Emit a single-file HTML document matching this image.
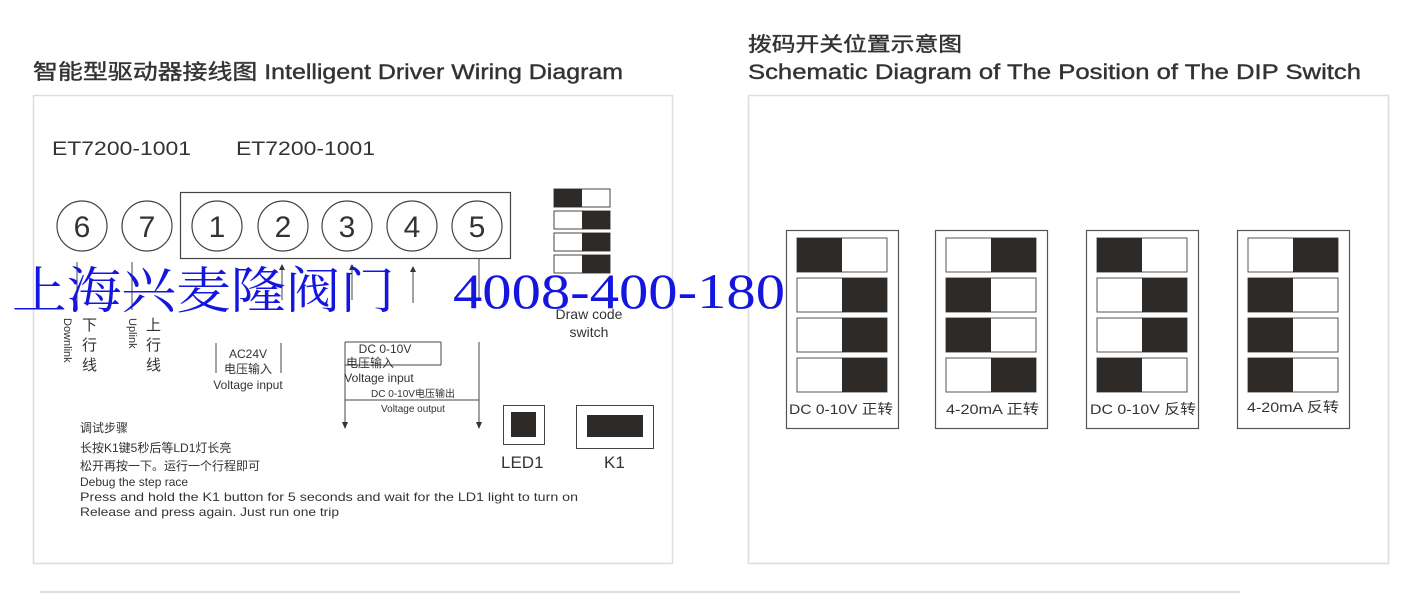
<!DOCTYPE html>
<html><head><meta charset="utf-8"><style>
html,body{margin:0;padding:0;background:#fff;}
svg{display:block;}
text{font-family:"Liberation Sans","Noto Sans CJK SC",sans-serif;fill:#333;}
</style></head><body>
<svg width="1418" height="594" viewBox="0 0 1418 594" xmlns="http://www.w3.org/2000/svg">
<!-- titles -->
<text x="33" y="79" font-size="21" textLength="590" lengthAdjust="spacingAndGlyphs" stroke="#333" stroke-width="0.4">智能型驱动器接线图 Intelligent Driver Wiring Diagram</text>
<text x="748" y="51" font-size="20" textLength="214" lengthAdjust="spacingAndGlyphs" stroke="#333" stroke-width="0.4">拨码开关位置示意图</text>
<text x="748" y="79" font-size="21" textLength="613" lengthAdjust="spacingAndGlyphs" stroke="#333" stroke-width="0.4">Schematic Diagram of The Position of The DIP Switch</text>
<!-- panels -->
<rect x="33.5" y="95.5" width="639" height="468" fill="none" stroke="#ddd" stroke-width="1.5"/>
<rect x="748.5" y="95.5" width="640" height="468" fill="none" stroke="#ddd" stroke-width="1.5"/>
<line x1="40" y1="592" x2="1240" y2="592" stroke="#ddd" stroke-width="2"/>

<g font-size="19"><text x="52" y="155" textLength="139" lengthAdjust="spacingAndGlyphs">ET7200-1001</text><text x="236" y="155" textLength="139" lengthAdjust="spacingAndGlyphs">ET7200-1001</text></g>
<rect x="180.5" y="192.5" width="330" height="66" fill="none" stroke="#444" stroke-width="1.2"/>
<g fill="#fff" stroke="#444" stroke-width="1.2">
<circle cx="82" cy="226" r="25"/><circle cx="147" cy="226" r="25"/><circle cx="217" cy="226" r="25"/>
<circle cx="283" cy="226" r="25"/><circle cx="347" cy="226" r="25"/><circle cx="412" cy="226" r="25"/><circle cx="477" cy="226" r="25"/>
</g>
<g font-size="30" text-anchor="middle">
<text x="82" y="237">6</text><text x="147" y="237">7</text><text x="217" y="237">1</text><text x="283" y="237">2</text>
<text x="347" y="237">3</text><text x="412" y="237">4</text><text x="477" y="237">5</text></g>
<!-- small dip -->
<g stroke="#444" stroke-width="1" fill="#fff">
<rect x="554" y="189" width="56" height="18"/><rect x="554" y="211" width="56" height="18"/>
<rect x="554" y="233" width="56" height="18"/><rect x="554" y="255" width="56" height="18"/></g>
<g fill="#2e2a28"><rect x="554" y="189" width="28" height="18"/><rect x="582" y="211" width="28" height="18"/>
<rect x="582" y="233" width="28" height="18"/><rect x="582" y="255" width="28" height="18"/></g>
<g font-size="14" text-anchor="middle"><text x="589" y="319">Draw code</text><text x="589" y="337">switch</text></g>
<!-- vertical lines -->
<g stroke="#444" stroke-width="1">
<line x1="77" y1="262" x2="77" y2="310"/><line x1="132" y1="262" x2="132" y2="310"/>
<line x1="282" y1="268" x2="282" y2="300"/><line x1="352" y1="268" x2="352" y2="300"/><line x1="413" y1="268" x2="413" y2="303"/>
<line x1="216" y1="343" x2="216" y2="373"/><line x1="281" y1="343" x2="281" y2="373"/>
<line x1="345" y1="342" x2="345" y2="425"/><line x1="345" y1="342" x2="441" y2="342"/><line x1="441" y1="342" x2="441" y2="365"/>
<line x1="345" y1="365" x2="441" y2="365"/>
<line x1="345" y1="400" x2="479" y2="400"/><line x1="479" y1="258" x2="479" y2="300"/><line x1="479" y1="342" x2="479" y2="425"/>
</g>
<g fill="#333"><path d="M342 422 L348 422 L345 429Z"/><path d="M476 422 L482 422 L479 429Z"/>
<path d="M279 270 L285 270 L282 264Z"/><path d="M349 270 L355 270 L352 264Z"/><path d="M410 272 L416 272 L413 266Z"/></g>
<!-- vertical labels -->
<g font-size="15"><text x="82" y="330">下</text><text x="82" y="350">行</text><text x="82" y="370">线</text>
<text x="146" y="330">上</text><text x="146" y="350">行</text><text x="146" y="370">线</text></g>
<g font-size="11"><text transform="translate(64,318) rotate(90)">Downlink</text><text transform="translate(129,318) rotate(90)">Uplink</text></g>
<g font-size="12" text-anchor="middle"><text x="248" y="358">AC24V</text><text x="248" y="373">电压输入</text><text x="248" y="389">Voltage input</text>
<text x="385" y="353">DC 0-10V</text><text x="370" y="367">电压输入</text><text x="379" y="382">Voltage input</text></g>
<g font-size="10" text-anchor="middle"><text x="413" y="397">DC 0-10V电压输出</text><text x="413" y="412">Voltage output</text></g>
<!-- LED/K1 -->
<rect x="503.5" y="405.5" width="41" height="39" fill="none" stroke="#444"/><rect x="511" y="412" width="25" height="25" fill="#2e2a28"/>
<rect x="576.5" y="405.5" width="77" height="43" fill="none" stroke="#444"/><rect x="587" y="415" width="56" height="22" fill="#2e2a28"/>
<g font-size="17"><text x="501" y="468">LED1</text><text x="604" y="468">K1</text></g>
<g font-size="12"><text x="80" y="432">调试步骤</text><text x="80" y="452">长按K1键5秒后等LD1灯长亮</text>
<text x="80" y="470">松开再按一下。运行一个行程即可</text><text x="80" y="486">Debug the step race</text>
<text x="80" y="501" textLength="498" lengthAdjust="spacingAndGlyphs">Press and hold the K1 button for 5 seconds and wait for the LD1 light to turn on</text>
<text x="80" y="516" textLength="259" lengthAdjust="spacingAndGlyphs">Release and press again. Just run one trip</text></g>
<!-- right dips -->
<g stroke="#555" stroke-width="1.2" fill="none">
<rect x="786.5" y="230.5" width="112" height="198"/><rect x="935.5" y="230.5" width="112" height="198"/>
<rect x="1086.5" y="230.5" width="112" height="198"/><rect x="1237.5" y="230.5" width="112" height="198"/></g>
<g stroke="#555" stroke-width="1" fill="#fff">
<rect x="797" y="238" width="90" height="34"/><rect x="797" y="278" width="90" height="34"/><rect x="797" y="318" width="90" height="34"/><rect x="797" y="358" width="90" height="34"/>
<rect x="946" y="238" width="90" height="34"/><rect x="946" y="278" width="90" height="34"/><rect x="946" y="318" width="90" height="34"/><rect x="946" y="358" width="90" height="34"/>
<rect x="1097" y="238" width="90" height="34"/><rect x="1097" y="278" width="90" height="34"/><rect x="1097" y="318" width="90" height="34"/><rect x="1097" y="358" width="90" height="34"/>
<rect x="1248" y="238" width="90" height="34"/><rect x="1248" y="278" width="90" height="34"/><rect x="1248" y="318" width="90" height="34"/><rect x="1248" y="358" width="90" height="34"/></g>
<g fill="#2e2a28">
<rect x="797" y="238" width="45" height="34"/><rect x="842" y="278" width="45" height="34"/><rect x="842" y="318" width="45" height="34"/><rect x="842" y="358" width="45" height="34"/>
<rect x="991" y="238" width="45" height="34"/><rect x="946" y="278" width="45" height="34"/><rect x="946" y="318" width="45" height="34"/><rect x="991" y="358" width="45" height="34"/>
<rect x="1097" y="238" width="45" height="34"/><rect x="1142" y="278" width="45" height="34"/><rect x="1142" y="318" width="45" height="34"/><rect x="1097" y="358" width="45" height="34"/>
<rect x="1293" y="238" width="45" height="34"/><rect x="1248" y="278" width="45" height="34"/><rect x="1248" y="318" width="45" height="34"/><rect x="1248" y="358" width="45" height="34"/></g>
<g font-size="14"><text x="789" y="414" textLength="104" lengthAdjust="spacingAndGlyphs">DC 0-10V  正转</text><text x="946" y="414" textLength="93" lengthAdjust="spacingAndGlyphs">4-20mA  正转</text>
<text x="1090" y="414" textLength="106" lengthAdjust="spacingAndGlyphs">DC 0-10V  反转</text><text x="1247" y="412" textLength="92" lengthAdjust="spacingAndGlyphs">4-20mA  反转</text></g>
<!-- watermark -->
<g font-size="50" style="font-family:'Liberation Serif','Noto Serif CJK SC',serif">
<text x="12" y="308" textLength="383" lengthAdjust="spacingAndGlyphs" style="fill:#1515e0;font-family:'Liberation Serif','Noto Serif CJK SC',serif">上海兴麦隆阀门</text>
<text x="453" y="308" textLength="332" lengthAdjust="spacingAndGlyphs" style="fill:#1515e0;font-family:'Liberation Serif','Noto Serif CJK SC',serif">4008-400-180</text>
</g>
</svg>
</body></html>
